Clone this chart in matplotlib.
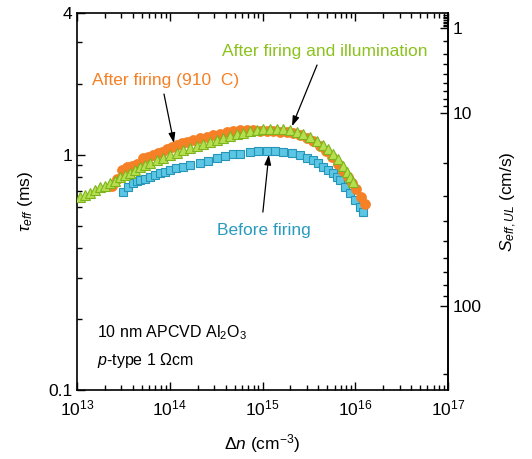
import numpy as np
import matplotlib
matplotlib.use("Agg")
import matplotlib.pyplot as plt
from matplotlib.ticker import FixedLocator, NullFormatter, LogLocator

plt.rcParams['font.family'] = ['Liberation Sans', 'DejaVu Sans']
plt.rcParams['mathtext.fontset'] = 'custom'
plt.rcParams['mathtext.rm'] = 'Liberation Sans'
plt.rcParams['mathtext.it'] = 'Liberation Sans:italic'
plt.rcParams['mathtext.bf'] = 'Liberation Sans:bold'

# ── Data: injection level (cm^-3) vs effective lifetime (ms) ────────────────
dn_before = [3.13e13, 3.55e13, 4.02e13, 4.44e13, 4.78e13, 5.41e13, 6.12e13, 6.93e13,
             7.85e13, 8.89e13, 1.01e14, 1.17e14, 1.39e14, 1.65e14, 2.12e14, 2.58e14,
             3.23e14, 3.94e14, 4.81e14, 5.72e14, 7.33e14, 8.94e14, 1.12e15, 1.36e15,
             1.66e15, 2.08e15, 2.54e15, 3.02e15, 3.51e15, 3.97e15, 4.49e15, 5.08e15,
             5.75e15, 6.36e15, 6.85e15, 7.76e15, 8.78e15, 9.93e15, 1.12e16, 1.21e16]
tau_before = [0.692, 0.727, 0.757, 0.771, 0.778, 0.787, 0.802, 0.818,
              0.834, 0.842, 0.859, 0.875, 0.885, 0.902, 0.920, 0.938,
              0.966, 0.985, 1.004, 1.004, 1.026, 1.035, 1.035, 1.035,
              1.026, 1.014, 0.995, 0.966, 0.948, 0.920, 0.885, 0.859,
              0.834, 0.802, 0.778, 0.727, 0.686, 0.640, 0.598, 0.569]

dn_fired = [2.38e13, 2.70e13, 3.05e13, 3.46e13, 3.92e13, 4.44e13, 5.15e13, 5.82e13,
            6.59e13, 7.47e13, 8.25e13, 9.34e13, 1.06e14, 1.20e14, 1.36e14, 1.53e14,
            1.78e14, 2.12e14, 2.52e14, 2.93e14, 3.48e14, 4.14e14, 4.81e14, 5.72e14,
            6.81e14, 7.91e14, 9.40e14, 1.12e15, 1.30e15, 1.55e15, 1.84e15, 2.13e15,
            2.54e15, 3.02e15, 3.51e15, 4.17e15, 4.84e15, 5.61e15, 6.51e15, 7.37e15,
            8.35e15, 9.23e15, 1.02e16, 1.15e16, 1.27e16]
tau_fired = [0.735, 0.787, 0.859, 0.885, 0.893, 0.911, 0.966, 0.975,
             0.995, 1.014, 1.026, 1.054, 1.076, 1.097, 1.119, 1.130,
             1.153, 1.175, 1.186, 1.211, 1.222, 1.247, 1.259, 1.271,
             1.271, 1.271, 1.259, 1.259, 1.259, 1.247, 1.247, 1.233,
             1.211, 1.175, 1.140, 1.087, 1.035, 0.975, 0.911, 0.851,
             0.802, 0.757, 0.713, 0.659, 0.616]

dn_illum = [1.08e13, 1.22e13, 1.38e13, 1.56e13, 1.77e13, 2.00e13, 2.27e13, 2.57e13,
            2.91e13, 3.30e13, 3.73e13, 4.22e13, 4.78e13, 5.41e13, 6.12e13, 7.29e13,
            8.46e13, 1.01e14, 1.20e14, 1.39e14, 1.65e14, 1.97e14, 2.28e14, 2.72e14,
            3.23e14, 3.75e14, 4.47e14, 5.31e14, 6.16e14, 7.33e14, 8.73e14, 1.01e15,
            1.20e15, 1.43e15, 1.66e15, 1.98e15, 2.35e15, 2.73e15, 3.25e15, 3.87e15,
            4.49e15, 5.08e15, 5.75e15, 6.51e15, 7.37e15, 8.15e15, 8.78e15, 9.46e15]
tau_illum = [0.659, 0.673, 0.686, 0.706, 0.727, 0.734, 0.757, 0.771,
             0.802, 0.818, 0.834, 0.859, 0.885, 0.902, 0.920, 0.948,
             0.966, 0.995, 1.014, 1.045, 1.066, 1.087, 1.109, 1.130,
             1.153, 1.175, 1.199, 1.222, 1.233, 1.259, 1.271, 1.283,
             1.283, 1.283, 1.283, 1.271, 1.247, 1.222, 1.186, 1.140,
             1.097, 1.054, 1.004, 0.957, 0.894, 0.842, 0.802, 0.763]

# upper-limit surface recombination velocity from tau_eff
W_HALF = 0.024     # cm, half wafer thickness
TAU_INTR = 4.05    # ms, intrinsic bulk lifetime

def tau_to_S(t):
    t = np.asarray(t, dtype=float)
    with np.errstate(divide='ignore', invalid='ignore'):
        return W_HALF * (1000.0 / t - 1000.0 / TAU_INTR)

def S_to_tau(s):
    s = np.asarray(s, dtype=float)
    with np.errstate(divide='ignore', invalid='ignore'):
        return 1000.0 / (s / W_HALF + 1000.0 / TAU_INTR)

C_ORANGE = '#F58025'
C_GREEN_FACE = '#B6DF4F'
C_GREEN_EDGE = '#7DB41C'
C_BLUE_FACE = '#5CC6E4'
C_BLUE_EDGE = '#2596B8'

# ── Figure ──────────────────────────────────────────────────────────────────
fig = plt.figure(figsize=(5.32, 4.59), dpi=100)
ax = fig.add_axes([77 / 532, 69 / 459, 371 / 532, 377 / 459])

ax.plot(dn_before, tau_before, ls='none', marker='s', ms=6.2,
        mfc=C_BLUE_FACE, mec=C_BLUE_EDGE, mew=0.8, zorder=3)
ax.plot(dn_fired, tau_fired, ls='none', marker='o', ms=7.2,
        mfc=C_ORANGE, mec=C_ORANGE, mew=0.5, zorder=4)
ax.plot(dn_illum, tau_illum, ls='none', marker='^', ms=7.6,
        mfc=C_GREEN_FACE, mec=C_GREEN_EDGE, mew=0.8, zorder=5)

ax.set_xscale('log')
ax.set_yscale('log')
ax.set_xlim(1e13, 1e17)
ax.set_ylim(0.1, 4)

ax.xaxis.set_major_locator(LogLocator(base=10, numticks=10))
ax.xaxis.set_minor_locator(LogLocator(base=10, subs=np.arange(2, 10), numticks=10))
ax.xaxis.set_minor_formatter(NullFormatter())
ax.yaxis.set_major_locator(FixedLocator([0.1, 1, 4]))
ax.set_yticklabels(['0.1', '1', '4'])
ax.yaxis.set_minor_locator(FixedLocator([0.2, 0.3, 0.4, 0.5, 0.6, 0.7, 0.8, 0.9, 2, 3]))
ax.yaxis.set_minor_formatter(NullFormatter())

ax.tick_params(which='both', direction='in', top=True, right=False,
               labelsize=12.5, width=1.0, colors='black')
ax.tick_params(which='major', length=6)
ax.tick_params(which='minor', length=3.5)
ax.tick_params(axis='x', pad=6)
for sp in ax.spines.values():
    sp.set_linewidth(1.2)

ax.set_xlabel(r'$\Delta \mathit{n}$ (cm$^{-3}$)', fontsize=12.5, labelpad=10)
ax.set_ylabel(r'$\tau_{\mathit{eff}}$ (ms)', fontsize=12.5, labelpad=9)

# right axis: S_eff,UL
sec = ax.secondary_yaxis('right', functions=(tau_to_S, S_to_tau))
sec.set_yticks([1, 10, 100])
sec.set_yticklabels(['1', '10', '100'])
sec.yaxis.set_minor_locator(FixedLocator([0.2, 0.3, 0.4, 0.5, 0.6, 0.7, 0.8, 0.9,
                                          2, 3, 4, 5, 6, 7, 8, 9,
                                          20, 30, 40, 50, 60, 70, 80, 90, 200]))
sec.yaxis.set_minor_formatter(NullFormatter())
sec.tick_params(which='both', direction='in', labelsize=12.5, width=1.0)
sec.tick_params(which='major', length=6)
sec.tick_params(which='minor', length=3.5)
sec.spines['right'].set_linewidth(1.2)
sec.set_ylabel(r'$S_{\mathit{eff,UL}}$ (cm/s)', fontsize=12.5, labelpad=12)

# ── Labels with arrows ──────────────────────────────────────────────────────
arrow_kw = dict(arrowstyle='-|>,head_length=0.6,head_width=0.2', color='black', lw=0.9,
                shrinkA=0, shrinkB=0)

ax.text(0.240, 0.820, 'After firing (910  C)', transform=ax.transAxes,
        color=C_ORANGE, fontsize=12.5, ha='center', va='center')
ax.annotate('', xy=(1.11e14, 1.12), xycoords='data',
            xytext=(0.2345, 0.785), textcoords='axes fraction', arrowprops=arrow_kw)

ax.text(0.668, 0.899, 'After firing and illumination', transform=ax.transAxes,
        color='#8CC21E', fontsize=12.5, ha='center', va='center')
ax.annotate('', xy=(2.08e15, 1.32), xycoords='data',
            xytext=(0.647, 0.862), textcoords='axes fraction', arrowprops=arrow_kw)

ax.text(0.503, 0.422, 'Before firing', transform=ax.transAxes,
        color='#2A9BBE', fontsize=12.5, ha='center', va='center')
ax.annotate('', xy=(1.17e15, 1.0), xycoords='data',
            xytext=(0.501, 0.472), textcoords='axes fraction', arrowprops=arrow_kw)

ax.text(0.054, 0.151, r'10 nm APCVD Al$_2$O$_3$', transform=ax.transAxes,
        fontsize=11.5, ha='left', va='center')
ax.text(0.054, 0.077, r'$p$-type 1 $\Omega$cm', transform=ax.transAxes,
        fontsize=11.5, ha='left', va='center')

fig.savefig('out.png', dpi=100, facecolor='white')
